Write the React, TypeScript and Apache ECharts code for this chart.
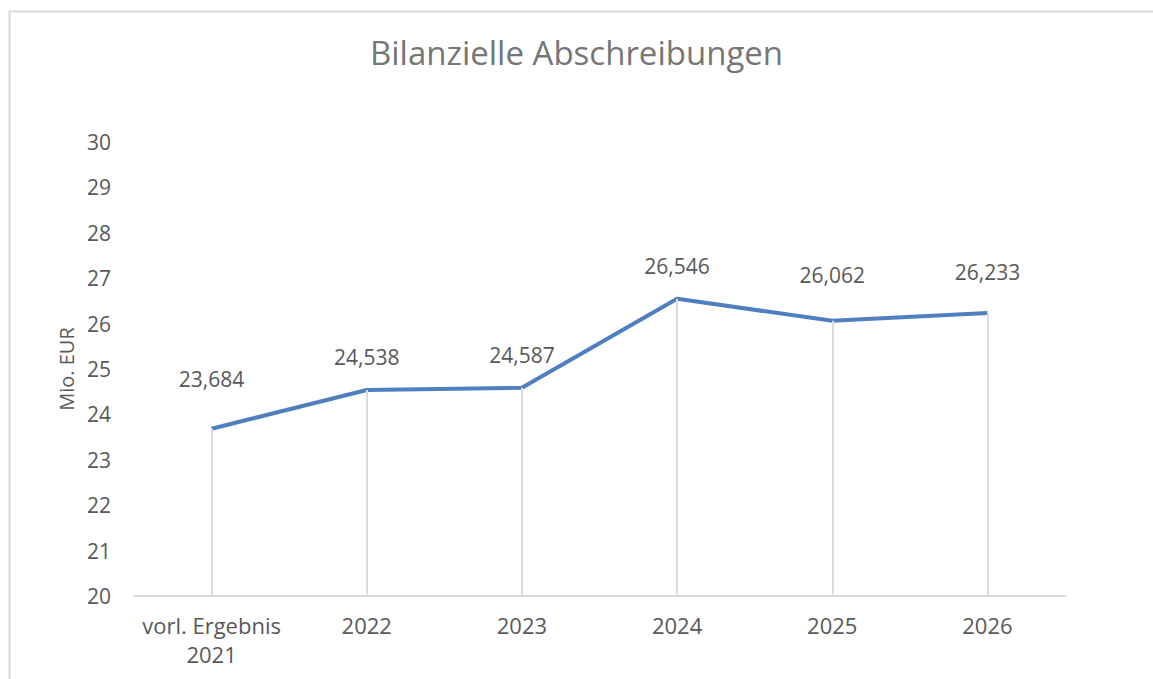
import React, { useEffect, useRef } from "react";
import * as echarts from "echarts";

const categories = ["vorl. Ergebnis\n2021", "2022", "2023", "2024", "2025", "2026"];
const values = [23.684, 24.538, 24.587, 26.546, 26.062, 26.233];
const labelOffsets = [38, 21, 21, 21, 34, 30];

export default function App() {
  const ref = useRef<HTMLDivElement>(null);
  useEffect(() => {
    const chart = echarts.init(ref.current!, null, { renderer: "svg" });
    const font = "'Open Sans', sans-serif";
    chart.setOption({
      animation: false,
      backgroundColor: "#ffffff",
      title: {
        text: "Bilanzielle Abschreibungen",
        left: "center",
        top: 31,
        textStyle: { fontFamily: font, fontSize: 33, fontWeight: "normal", color: "#767676" },
      },
      graphic: [
        {
          type: "rect",
          shape: { x: 9.5, y: 11.5, width: 1200, height: 720 },
          style: { fill: "none", stroke: "#d9d9d9", lineWidth: 2 },
          silent: true,
        },
      ],
      grid: { left: 134, right: 88, top: 142, bottom: 83 },
      xAxis: {
        type: "category",
        data: categories,
        boundaryGap: true,
        axisLine: { show: true, lineStyle: { color: "#d9d9d9", width: 2 } },
        axisTick: { show: false },
        axisLabel: {
          interval: 0,
          fontFamily: font,
          fontSize: 22,
          color: "#595959",
          margin: 14,
          lineHeight: 29,
        },
      },
      yAxis: {
        type: "value",
        min: 20,
        max: 30,
        interval: 1,
        name: "Mio. EUR",
        nameLocation: "middle",
        nameGap: 57,
        nameTextStyle: { fontFamily: font, fontSize: 20, color: "#595959" },
        axisLine: { show: false },
        axisTick: { show: false },
        splitLine: { show: false },
        axisLabel: { fontFamily: font, fontSize: 21, color: "#595959", margin: 23 },
      },
      series: [
        {
          type: "line",
          data: values.map((v, i) => ({
            value: v,
            label: { offset: [0, -labelOffsets[i]] },
          })),
          symbol: "circle",
          symbolSize: 2,
          showSymbol: true,
          itemStyle: { color: "rgba(79,127,191,0)", borderWidth: 0 },
          lineStyle: { color: "#4f7fbf", width: 4 },
          label: {
            show: true,
            position: "top",
            distance: 0,
            fontFamily: font,
            fontSize: 21,
            color: "#595959",
            formatter: (p: any) => Number(p.value).toFixed(3).replace(".", ","),
          },
          markLine: {
            silent: true,
            symbol: "none",
            label: { show: false },
            lineStyle: { color: "#dcdcdc", width: 2, type: "solid" },
            data: values.map((v, i) => [
              { coord: [i, 20] },
              { coord: [i, v] },
            ]),
          },
          z: 3,
        },
      ],
    });
    return () => chart.dispose();
  }, []);
  return (
    <div
      ref={ref}
      style={{ position: "absolute", left: 0, top: 0, width: 1153, height: 679 }}
    />
  );
}
